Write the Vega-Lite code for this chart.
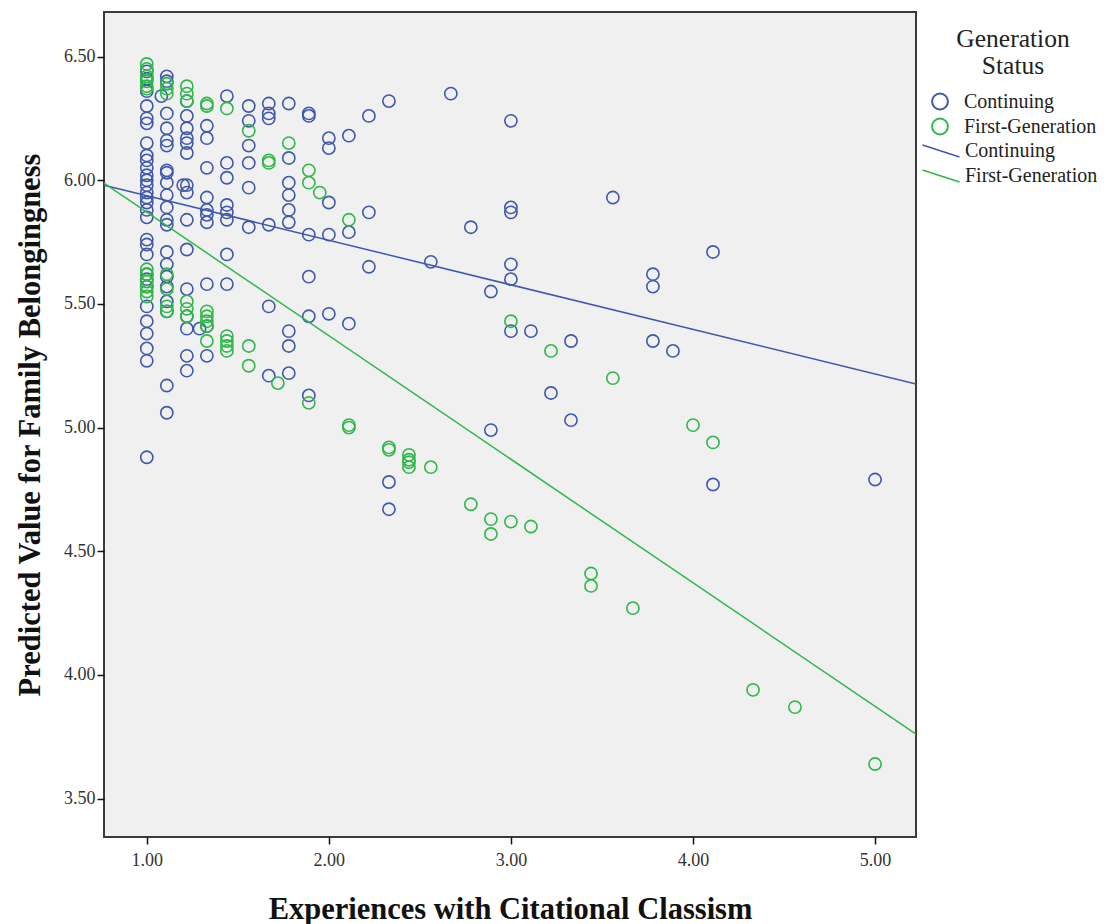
{
  "$schema": "https://vega.github.io/schema/vega-lite/v6.json",
  "width": 812,
  "height": 825,
  "autosize": {"type": "none"},
  "padding": {"left": 104, "top": 12, "right": 197, "bottom": 87},
  "background": "white",
  "config": {
    "view": {"fill": "#f0f0f0", "stroke": "#3a3a3a", "strokeWidth": 2},
    "font": "Liberation Serif",
    "axis": {
      "labelFont": "Liberation Serif", "titleFont": "Liberation Serif",
      "labelFontSize": 18, "titleFontSize": 30.5, "titleFontWeight": "bold",
      "labelColor": "#333333", "titleColor": "#111111",
      "tickColor": "#111111", "tickWidth": 1.5, "tickSize": 7,
      "domain": false, "grid": false
    },
    "legend": {
      "labelFont": "Liberation Serif", "titleFont": "Liberation Serif",
      "labelColor": "#222222", "titleColor": "#222222", "padding": 0
    }
  },
  "layer": [
    {
      "data": {"values": [
        {"x":1.00,"y":6.44,"g":"Continuing"},{"x":1.00,"y":6.41,"g":"Continuing"},{"x":1.00,"y":6.36,"g":"Continuing"},{"x":1.00,"y":6.30,"g":"Continuing"},{"x":1.00,"y":6.25,"g":"Continuing"},{"x":1.00,"y":6.23,"g":"Continuing"},{"x":1.00,"y":6.15,"g":"Continuing"},{"x":1.00,"y":6.10,"g":"Continuing"},{"x":1.00,"y":6.08,"g":"Continuing"},{"x":1.00,"y":6.05,"g":"Continuing"},{"x":1.00,"y":6.02,"g":"Continuing"},{"x":1.00,"y":6.00,"g":"Continuing"},{"x":1.00,"y":5.98,"g":"Continuing"},{"x":1.00,"y":5.95,"g":"Continuing"},{"x":1.00,"y":5.93,"g":"Continuing"},{"x":1.00,"y":5.91,"g":"Continuing"},{"x":1.00,"y":5.88,"g":"Continuing"},{"x":1.00,"y":5.85,"g":"Continuing"},{"x":1.00,"y":5.76,"g":"Continuing"},{"x":1.00,"y":5.74,"g":"Continuing"},{"x":1.00,"y":5.70,"g":"Continuing"},{"x":1.00,"y":5.62,"g":"Continuing"},{"x":1.00,"y":5.60,"g":"Continuing"},{"x":1.00,"y":5.57,"g":"Continuing"},{"x":1.00,"y":5.49,"g":"Continuing"},{"x":1.00,"y":5.43,"g":"Continuing"},{"x":1.00,"y":5.38,"g":"Continuing"},{"x":1.00,"y":5.32,"g":"Continuing"},{"x":1.00,"y":5.27,"g":"Continuing"},{"x":1.00,"y":4.88,"g":"Continuing"},
        {"x":1.08,"y":6.34,"g":"Continuing"},
        {"x":1.11,"y":6.42,"g":"Continuing"},{"x":1.11,"y":6.40,"g":"Continuing"},{"x":1.11,"y":6.27,"g":"Continuing"},{"x":1.11,"y":6.21,"g":"Continuing"},{"x":1.11,"y":6.16,"g":"Continuing"},{"x":1.11,"y":6.14,"g":"Continuing"},{"x":1.11,"y":6.04,"g":"Continuing"},{"x":1.11,"y":6.03,"g":"Continuing"},{"x":1.11,"y":5.99,"g":"Continuing"},{"x":1.11,"y":5.94,"g":"Continuing"},{"x":1.11,"y":5.89,"g":"Continuing"},{"x":1.11,"y":5.84,"g":"Continuing"},{"x":1.11,"y":5.82,"g":"Continuing"},{"x":1.11,"y":5.71,"g":"Continuing"},{"x":1.11,"y":5.66,"g":"Continuing"},{"x":1.11,"y":5.61,"g":"Continuing"},{"x":1.11,"y":5.57,"g":"Continuing"},{"x":1.11,"y":5.51,"g":"Continuing"},{"x":1.11,"y":5.47,"g":"Continuing"},{"x":1.11,"y":5.17,"g":"Continuing"},{"x":1.11,"y":5.06,"g":"Continuing"},
        {"x":1.20,"y":5.98,"g":"Continuing"},
        {"x":1.22,"y":6.32,"g":"Continuing"},{"x":1.22,"y":6.26,"g":"Continuing"},{"x":1.22,"y":6.21,"g":"Continuing"},{"x":1.22,"y":6.17,"g":"Continuing"},{"x":1.22,"y":6.15,"g":"Continuing"},{"x":1.22,"y":6.11,"g":"Continuing"},{"x":1.22,"y":5.98,"g":"Continuing"},{"x":1.22,"y":5.95,"g":"Continuing"},{"x":1.22,"y":5.84,"g":"Continuing"},{"x":1.22,"y":5.72,"g":"Continuing"},{"x":1.22,"y":5.56,"g":"Continuing"},{"x":1.22,"y":5.45,"g":"Continuing"},{"x":1.22,"y":5.40,"g":"Continuing"},{"x":1.22,"y":5.29,"g":"Continuing"},{"x":1.22,"y":5.23,"g":"Continuing"},
        {"x":1.29,"y":5.40,"g":"Continuing"},
        {"x":1.33,"y":6.22,"g":"Continuing"},{"x":1.33,"y":6.17,"g":"Continuing"},{"x":1.33,"y":6.05,"g":"Continuing"},{"x":1.33,"y":5.93,"g":"Continuing"},{"x":1.33,"y":5.88,"g":"Continuing"},{"x":1.33,"y":5.86,"g":"Continuing"},{"x":1.33,"y":5.83,"g":"Continuing"},{"x":1.33,"y":5.58,"g":"Continuing"},{"x":1.33,"y":5.41,"g":"Continuing"},{"x":1.33,"y":5.29,"g":"Continuing"},
        {"x":1.44,"y":6.34,"g":"Continuing"},{"x":1.44,"y":6.07,"g":"Continuing"},{"x":1.44,"y":6.01,"g":"Continuing"},{"x":1.44,"y":5.90,"g":"Continuing"},{"x":1.44,"y":5.87,"g":"Continuing"},{"x":1.44,"y":5.84,"g":"Continuing"},{"x":1.44,"y":5.70,"g":"Continuing"},{"x":1.44,"y":5.58,"g":"Continuing"},
        {"x":1.56,"y":6.30,"g":"Continuing"},{"x":1.56,"y":6.24,"g":"Continuing"},{"x":1.56,"y":6.14,"g":"Continuing"},{"x":1.56,"y":6.07,"g":"Continuing"},{"x":1.56,"y":5.97,"g":"Continuing"},{"x":1.56,"y":5.81,"g":"Continuing"},
        {"x":1.67,"y":6.31,"g":"Continuing"},{"x":1.67,"y":6.27,"g":"Continuing"},{"x":1.67,"y":6.25,"g":"Continuing"},{"x":1.67,"y":5.82,"g":"Continuing"},{"x":1.67,"y":5.49,"g":"Continuing"},{"x":1.67,"y":5.21,"g":"Continuing"},
        {"x":1.78,"y":6.31,"g":"Continuing"},{"x":1.78,"y":6.09,"g":"Continuing"},{"x":1.78,"y":5.99,"g":"Continuing"},{"x":1.78,"y":5.94,"g":"Continuing"},{"x":1.78,"y":5.88,"g":"Continuing"},{"x":1.78,"y":5.83,"g":"Continuing"},{"x":1.78,"y":5.39,"g":"Continuing"},{"x":1.78,"y":5.33,"g":"Continuing"},{"x":1.78,"y":5.22,"g":"Continuing"},
        {"x":1.89,"y":6.27,"g":"Continuing"},{"x":1.89,"y":6.26,"g":"Continuing"},{"x":1.89,"y":5.78,"g":"Continuing"},{"x":1.89,"y":5.61,"g":"Continuing"},{"x":1.89,"y":5.45,"g":"Continuing"},{"x":1.89,"y":5.13,"g":"Continuing"},
        {"x":2.00,"y":6.17,"g":"Continuing"},{"x":2.00,"y":6.13,"g":"Continuing"},{"x":2.00,"y":5.91,"g":"Continuing"},{"x":2.00,"y":5.78,"g":"Continuing"},{"x":2.00,"y":5.46,"g":"Continuing"},
        {"x":2.11,"y":6.18,"g":"Continuing"},{"x":2.11,"y":5.79,"g":"Continuing"},{"x":2.11,"y":5.42,"g":"Continuing"},
        {"x":2.22,"y":6.26,"g":"Continuing"},{"x":2.22,"y":5.87,"g":"Continuing"},{"x":2.22,"y":5.65,"g":"Continuing"},
        {"x":2.33,"y":6.32,"g":"Continuing"},{"x":2.33,"y":4.78,"g":"Continuing"},{"x":2.33,"y":4.67,"g":"Continuing"},
        {"x":2.56,"y":5.67,"g":"Continuing"},
        {"x":2.67,"y":6.35,"g":"Continuing"},
        {"x":2.78,"y":5.81,"g":"Continuing"},
        {"x":2.89,"y":5.55,"g":"Continuing"},{"x":2.89,"y":4.99,"g":"Continuing"},
        {"x":3.00,"y":6.24,"g":"Continuing"},{"x":3.00,"y":5.89,"g":"Continuing"},{"x":3.00,"y":5.87,"g":"Continuing"},{"x":3.00,"y":5.66,"g":"Continuing"},{"x":3.00,"y":5.60,"g":"Continuing"},{"x":3.00,"y":5.39,"g":"Continuing"},
        {"x":3.11,"y":5.39,"g":"Continuing"},
        {"x":3.22,"y":5.14,"g":"Continuing"},
        {"x":3.33,"y":5.35,"g":"Continuing"},{"x":3.33,"y":5.03,"g":"Continuing"},
        {"x":3.56,"y":5.93,"g":"Continuing"},
        {"x":3.78,"y":5.62,"g":"Continuing"},{"x":3.78,"y":5.57,"g":"Continuing"},{"x":3.78,"y":5.35,"g":"Continuing"},
        {"x":3.89,"y":5.31,"g":"Continuing"},
        {"x":4.11,"y":5.71,"g":"Continuing"},{"x":4.11,"y":4.77,"g":"Continuing"},
        {"x":5.00,"y":4.79,"g":"Continuing"},
        {"x":1.00,"y":6.47,"g":"First-Generation"},{"x":1.00,"y":6.45,"g":"First-Generation"},{"x":1.00,"y":6.42,"g":"First-Generation"},{"x":1.00,"y":6.40,"g":"First-Generation"},{"x":1.00,"y":6.38,"g":"First-Generation"},{"x":1.00,"y":6.37,"g":"First-Generation"},{"x":1.00,"y":5.64,"g":"First-Generation"},{"x":1.00,"y":5.62,"g":"First-Generation"},{"x":1.00,"y":5.59,"g":"First-Generation"},{"x":1.00,"y":5.57,"g":"First-Generation"},{"x":1.00,"y":5.55,"g":"First-Generation"},{"x":1.00,"y":5.53,"g":"First-Generation"},
        {"x":1.11,"y":6.39,"g":"First-Generation"},{"x":1.11,"y":6.37,"g":"First-Generation"},{"x":1.11,"y":6.35,"g":"First-Generation"},{"x":1.11,"y":5.62,"g":"First-Generation"},{"x":1.11,"y":5.56,"g":"First-Generation"},{"x":1.11,"y":5.49,"g":"First-Generation"},{"x":1.11,"y":5.47,"g":"First-Generation"},
        {"x":1.22,"y":6.38,"g":"First-Generation"},{"x":1.22,"y":6.35,"g":"First-Generation"},{"x":1.22,"y":6.32,"g":"First-Generation"},{"x":1.22,"y":5.51,"g":"First-Generation"},{"x":1.22,"y":5.48,"g":"First-Generation"},{"x":1.22,"y":5.45,"g":"First-Generation"},
        {"x":1.33,"y":6.31,"g":"First-Generation"},{"x":1.33,"y":6.30,"g":"First-Generation"},{"x":1.33,"y":5.47,"g":"First-Generation"},{"x":1.33,"y":5.45,"g":"First-Generation"},{"x":1.33,"y":5.43,"g":"First-Generation"},{"x":1.33,"y":5.41,"g":"First-Generation"},{"x":1.33,"y":5.35,"g":"First-Generation"},
        {"x":1.44,"y":6.29,"g":"First-Generation"},{"x":1.44,"y":5.37,"g":"First-Generation"},{"x":1.44,"y":5.35,"g":"First-Generation"},{"x":1.44,"y":5.33,"g":"First-Generation"},{"x":1.44,"y":5.31,"g":"First-Generation"},
        {"x":1.56,"y":6.20,"g":"First-Generation"},{"x":1.56,"y":5.33,"g":"First-Generation"},{"x":1.56,"y":5.25,"g":"First-Generation"},
        {"x":1.67,"y":6.08,"g":"First-Generation"},{"x":1.67,"y":6.07,"g":"First-Generation"},
        {"x":1.72,"y":5.18,"g":"First-Generation"},
        {"x":1.78,"y":6.15,"g":"First-Generation"},
        {"x":1.89,"y":6.04,"g":"First-Generation"},{"x":1.89,"y":5.99,"g":"First-Generation"},{"x":1.89,"y":5.10,"g":"First-Generation"},
        {"x":1.95,"y":5.95,"g":"First-Generation"},
        {"x":2.11,"y":5.84,"g":"First-Generation"},{"x":2.11,"y":5.01,"g":"First-Generation"},{"x":2.11,"y":5.00,"g":"First-Generation"},
        {"x":2.33,"y":4.92,"g":"First-Generation"},{"x":2.33,"y":4.91,"g":"First-Generation"},
        {"x":2.44,"y":4.89,"g":"First-Generation"},{"x":2.44,"y":4.87,"g":"First-Generation"},{"x":2.44,"y":4.86,"g":"First-Generation"},{"x":2.44,"y":4.84,"g":"First-Generation"},
        {"x":2.56,"y":4.84,"g":"First-Generation"},
        {"x":2.78,"y":4.69,"g":"First-Generation"},
        {"x":2.89,"y":4.63,"g":"First-Generation"},{"x":2.89,"y":4.57,"g":"First-Generation"},
        {"x":3.00,"y":5.43,"g":"First-Generation"},{"x":3.00,"y":4.62,"g":"First-Generation"},
        {"x":3.11,"y":4.60,"g":"First-Generation"},
        {"x":3.22,"y":5.31,"g":"First-Generation"},
        {"x":3.44,"y":4.41,"g":"First-Generation"},{"x":3.44,"y":4.36,"g":"First-Generation"},
        {"x":3.56,"y":5.20,"g":"First-Generation"},
        {"x":3.67,"y":4.27,"g":"First-Generation"},
        {"x":4.00,"y":5.01,"g":"First-Generation"},
        {"x":4.11,"y":4.94,"g":"First-Generation"},
        {"x":4.33,"y":3.94,"g":"First-Generation"},
        {"x":4.56,"y":3.87,"g":"First-Generation"},
        {"x":5.00,"y":3.64,"g":"First-Generation"}
      ]},
      "mark": {"type": "point", "shape": "circle", "filled": false, "size": 150, "strokeWidth": 1.6, "opacity": 1},
      "encoding": {
        "x": {"field": "x", "type": "quantitative",
              "scale": {"domain": [0.765, 5.225], "nice": false, "zero": false},
              "axis": {"values": [1, 2, 3, 4, 5], "format": ".2f", "labelPadding": 7, "titlePadding": 25,
                       "title": "Experiences with Citational Classism"}},
        "y": {"field": "y", "type": "quantitative",
              "scale": {"domain": [3.345, 6.68], "nice": false, "zero": false},
              "axis": {"values": [3.5, 4, 4.5, 5, 5.5, 6, 6.5], "format": ".2f", "labelPadding": 2, "titlePadding": 18,
                       "title": "Predicted Value for Family Belongingness"}},
        "stroke": {"field": "g", "type": "nominal",
                   "scale": {"range": ["#3e58ac", "#2eb848"]},
                   "legend": {"title": ["Generation", "Status"], "orient": "none", "legendX": 826, "legendY": 15,
                              "symbolType": "circle", "symbolSize": 250, "symbolStrokeWidth": 2,
                              "labelFontSize": 20, "labelOffset": 14, "rowPadding": 1,
                              "titleFontSize": 25.5, "titleFontWeight": "normal", "titleAlign": "center",
                              "titleAnchor": "middle", "titlePadding": 12, "titleLineHeight": 27}}
      }
    },
    {
      "data": {"values": [
        {"x": 0.765, "y": 5.980, "g": "Continuing"},
        {"x": 5.225, "y": 5.176, "g": "Continuing"},
        {"x": 0.765, "y": 5.988, "g": "First-Generation"},
        {"x": 5.225, "y": 3.761, "g": "First-Generation"}
      ]},
      "mark": {"type": "line", "strokeWidth": 1.5, "clip": true},
      "encoding": {
        "x": {"field": "x", "type": "quantitative"},
        "y": {"field": "y", "type": "quantitative"},
        "color": {"field": "g", "type": "nominal",
                  "scale": {"range": ["#3e58ac", "#2eb848"]},
                  "legend": {"title": null, "orient": "none", "legendX": 826, "legendY": 128,
                             "symbolType": "M-1.85,-0.6L1.85,0.6", "symbolSize": 400, "symbolStrokeWidth": 1.5,
                             "labelFontSize": 20, "labelOffset": 13, "rowPadding": 4}}
      }
    }
  ]
}
